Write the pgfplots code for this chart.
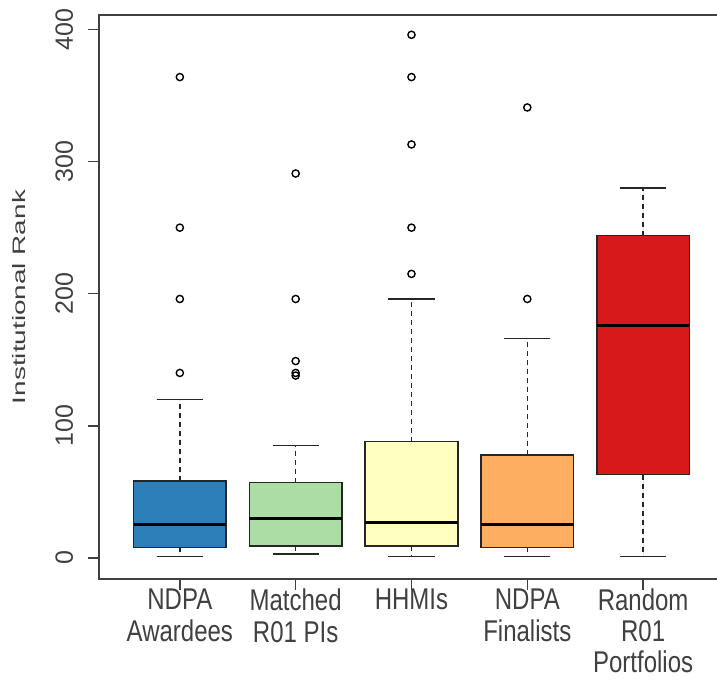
\documentclass[border=0pt]{standalone}
\usepackage{fontspec}
\setmainfont{Liberation Sans}
\usepackage{graphicx}
\usepackage{pgfplots}
\pgfplotsset{compat=1.18}
\usepgfplotslibrary{statistics}
\definecolor{c1}{HTML}{2C7FB8}
\definecolor{c2}{HTML}{ABDDA4}
\definecolor{c3}{HTML}{FFFFBF}
\definecolor{c4}{HTML}{FDAE61}
\definecolor{c5}{HTML}{D7191C}
\definecolor{axc}{HTML}{404040}
\newcommand{\xl}[1]{\scalebox{1}[1.25]{\fontsize{24bp}{20bp}\selectfont\shortstack{#1}}}
\pgfplotsset{
  outl/.style={mark=o, mark size=3.6bp, mark options={solid, draw=black, line width=1.4bp}},
}
\begin{document}
\begin{tikzpicture}
\begin{axis}[
  scale only axis, width=631bp, height=564bp,
  xmin=0.302, xmax=5.75, ymin=-16, ymax=411,
  axis line style={line width=1.8bp, draw=axc},
  xtick={1,2,3,4,5},
  xticklabels={{\xl{NDPA\\[5bp]Awardees}},{\xl{Matched\\[5bp]R01 PIs}},{\xl{HHMIs}},{\xl{NDPA\\[5bp]Finalists}},{\xl{Random\\[4.5bp]R01\\[4.5bp]Portfolios}}},
  ytick={0,100,200,300,400},
  xtick pos=bottom, ytick pos=left,
  tick align=outside, major tick length=11bp,
  every tick/.style={line width=1.5bp, draw=axc},
  /pgf/number format/assume math mode=true,
  xticklabel style={anchor=north, inner sep=0pt, text=axc, yshift=1bp},
  yticklabel style={font=\fontsize{25bp}{30bp}\selectfont, xshift=-15bp, rotate=90, anchor=base, inner sep=0pt, text=axc},
  ylabel={\scalebox{1.55}[1]{\fontsize{18bp}{20bp}\selectfont Institutional Rank}},
  ylabel style={text=axc, inner sep=0pt},
  ylabel shift=30bp,
  boxplot/draw direction=y,
  boxplot/every median/.style={line width=3.2bp, draw=black},
  boxplot/every box/.style={line width=1.6bp, draw=black!85},
  boxplot/every whisker/.style={line width=1.5bp, draw=black!85, dash pattern=on 5bp off 4bp},
]
\addplot[fill=c1, draw=black!85, outl, boxplot prepared={draw position=1, lower whisker=1, lower quartile=8, median=25, upper quartile=58, upper whisker=120, box extend=0.8, whisker extend=0.4}]
  table[row sep=\\, y index=0] {data\\ 364\\ 250\\ 196\\ 140\\};
\addplot[fill=c2, draw=black!85, outl, boxplot prepared={draw position=2, lower whisker=3, lower quartile=9, median=30, upper quartile=57, upper whisker=85, box extend=0.8, whisker extend=0.4}]
  table[row sep=\\, y index=0] {data\\ 291\\ 196\\ 149\\ 140\\ 138\\};
\addplot[fill=c3, draw=black!85, outl, boxplot prepared={draw position=3, lower whisker=1, lower quartile=9, median=27, upper quartile=88, upper whisker=196, box extend=0.8, whisker extend=0.4}]
  table[row sep=\\, y index=0] {data\\ 396\\ 364\\ 313\\ 250\\ 215\\};
\addplot[fill=c4, draw=black!85, outl, boxplot prepared={draw position=4, lower whisker=1, lower quartile=8, median=25, upper quartile=78, upper whisker=166, box extend=0.8, whisker extend=0.4}]
  table[row sep=\\, y index=0] {data\\ 341\\ 196\\};
\addplot[fill=c5, draw=black!85, outl, boxplot prepared={draw position=5, lower whisker=1, lower quartile=63, median=176, upper quartile=244, upper whisker=280, box extend=0.8, whisker extend=0.4}]
  coordinates {};
% solid whisker caps
\addplot[draw=black!85, line width=1.6bp, solid, no markers, unbounded coords=jump] coordinates {
  (0.8,1) (1.2,1) (1,nan) (0.8,120) (1.2,120) (1,nan)
  (1.8,3) (2.2,3) (2,nan) (1.8,85) (2.2,85) (2,nan)
  (2.8,1) (3.2,1) (3,nan) (2.8,196) (3.2,196) (3,nan)
  (3.8,1) (4.2,1) (4,nan) (3.8,166) (4.2,166) (4,nan)
  (4.8,1) (5.2,1) (5,nan) (4.8,280) (5.2,280)
};
\end{axis}
\pgfresetboundingbox
\path[use as bounding box] (current axis.south west) ++(-99bp,-103bp) rectangle ++(717bp,682bp);
\end{tikzpicture}
\end{document}
